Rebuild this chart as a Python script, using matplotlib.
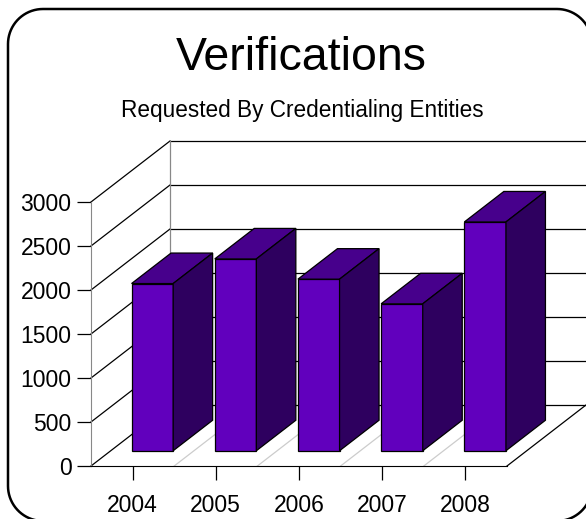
import matplotlib
matplotlib.use('Agg')
import numpy as np
import matplotlib.pyplot as plt
from matplotlib.patches import Polygon
from matplotlib.lines import Line2D
from matplotlib.transforms import IdentityTransform

plt.rcParams['font.family'] = ['Liberation Sans', 'DejaVu Sans']

years = ['2004', '2005', '2006', '2007', '2008']
verifications = [1900, 2180, 1950, 1670, 2600]
yticks = [0, 500, 1000, 1500, 2000, 2500, 3000]

face_col = '#6100BD'
top_col = '#47008C'
side_col = '#2E005F'

W, H = 586, 519
fig = plt.figure(figsize=(W / 100, H / 100), dpi=100)

# front plane of the plot box in pixels (left, top, right, bottom)
left, top, right, bottom = 91, 202, 507, 466
ax = fig.add_axes([left / W, (H - bottom) / H, (right - left) / W, (bottom - top) / H])
ax.set_xlim(-0.5, len(years) - 0.5)
ax.set_ylim(0, 3000)

# oblique depth offset, in data units (79 px right, 61 px up)
DX = 79 / ((right - left) / len(years))
DY = 61 / ((bottom - top) / 3000)

# back wall + left wall lines
x_back0 = -0.5 + DX
x_back1 = len(years) - 0.5 + DX
for v in yticks:
    ax.plot([x_back0, x_back1], [v + DY, v + DY], color='black', lw=0.9, clip_on=False, zorder=1)
    ax.plot([-0.5, x_back0], [v, v + DY], color='black', lw=0.9, clip_on=False, zorder=1)
ax.plot([x_back0, x_back0], [DY, 3000 + DY], color='#888888', lw=0.9, clip_on=False, zorder=1)

# floor
ax.plot([len(years) - 0.5, x_back1], [0, DY], color='black', lw=0.9, clip_on=False, zorder=1)
for k in range(len(years) - 1):
    ax.plot([k + 0.5, k + 0.5 + DX], [0, DY], color='#cccccc', lw=0.9, clip_on=False, zorder=1)

# bars
d0, d1, bw = 0.25, 0.75, 0.5
for i, v in enumerate(verifications):
    x0 = i - bw / 2 + d0 * DX
    x1 = i + bw / 2 + d0 * DX
    y0 = d0 * DY
    y1 = v + d0 * DY
    ddx = (d1 - d0) * DX
    ddy = (d1 - d0) * DY
    front = Polygon([(x0, y0), (x1, y0), (x1, y1), (x0, y1)], closed=True,
                    facecolor=face_col, edgecolor='black', lw=0.9, clip_on=False, zorder=3)
    topf = Polygon([(x0, y1), (x1, y1), (x1 + ddx, y1 + ddy), (x0 + ddx, y1 + ddy)], closed=True,
                   facecolor=top_col, edgecolor='black', lw=0.9, clip_on=False, zorder=3)
    side = Polygon([(x1, y0), (x1, y1), (x1 + ddx, y1 + ddy), (x1 + ddx, y0 + ddy)], closed=True,
                   facecolor=side_col, edgecolor='black', lw=0.9, clip_on=False, zorder=3)
    ax.add_patch(front)
    ax.add_patch(topf)
    ax.add_patch(side)

# axes
ax.set_facecolor('none')
for s in ['top', 'right']:
    ax.spines[s].set_visible(False)
ax.spines['left'].set_color('#888888')
ax.spines['bottom'].set_color('black')
ax.set_yticks(yticks)
ax.set_xticks(range(len(years)))
ax.set_xticklabels(years)
ax.tick_params(axis='y', length=10, width=0.9, pad=4, labelsize=16.5, direction='out')
ax.tick_params(axis='x', length=10, width=0.9, pad=10, labelsize=16.5, direction='out')

fig.text(301 / W, 1 - 58 / H, 'Verifications', ha='center', va='center', fontsize=33.5)
fig.text(302 / W, 1 - 111 / H, 'Requested By Credentialing Entities', ha='center', va='center', fontsize=16.3)

# rounded frame, drawn in pixels
fl, ft, fr, fb, rad = 8, 9, 592, 521, 35
t = np.linspace(0, np.pi / 2, 20)
xs, ys = [], []
for cx, cy, a0 in [(fr - rad, ft + rad, 0), (fl + rad, ft + rad, np.pi / 2),
                   (fl + rad, fb - rad, np.pi), (fr - rad, fb - rad, 1.5 * np.pi)]:
    ang = a0 + t
    xs.extend(cx + rad * np.cos(ang))
    ys.extend(cy - rad * np.sin(ang))
xs.append(xs[0])
ys.append(ys[0])
frame = Line2D(xs, [H - y for y in ys], color='black', lw=1.8, transform=IdentityTransform())
fig.lines.append(frame)

fig.savefig('out.png', dpi=100)
